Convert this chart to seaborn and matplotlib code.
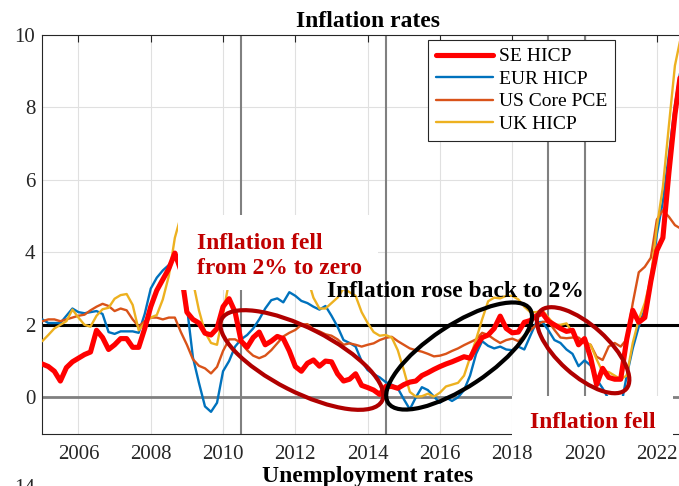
import numpy as np
import pandas as pd
import matplotlib
matplotlib.use("Agg")
import matplotlib.pyplot as plt
import seaborn as sns
from matplotlib.patches import Ellipse, Rectangle

# ---------------- data ----------------
years = 2005 + np.arange(107) / 6.0   # two-month time grid

se_hicp = [0.92, 0.85, 0.72, 0.45, 0.82, 0.98, 1.08, 1.18, 1.25, 1.85,
           1.65, 1.32, 1.45, 1.62, 1.62, 1.38, 1.38, 1.90, 2.50, 2.95,
           3.25, 3.55, 3.98, 3.50, 2.35, 2.15, 2.05, 1.77, 1.72, 1.90,
           2.50, 2.72, 2.35, 1.55, 1.38, 1.65, 1.80, 1.45, 1.55, 1.68,
           1.62, 1.28, 0.85, 0.72, 0.94, 1.03, 0.86, 1.00, 0.98, 0.65,
           0.45, 0.50, 0.65, 0.33, 0.27, 0.20, 0.08, 0.30, 0.30, 0.25,
           0.35, 0.42, 0.45, 0.60, 0.68, 0.77, 0.85, 0.92, 0.98, 1.05,
           1.12, 1.08, 1.40, 1.65, 1.72, 1.90, 2.24, 1.90, 1.78, 1.80,
           2.07, 2.12, 2.25, 2.32, 2.10, 2.00, 1.90, 1.82, 1.85, 1.45,
           1.62, 1.10, 0.35, 0.80, 0.55, 0.50, 0.50, 1.60, 2.40, 2.07,
           2.20, 3.20, 4.05, 4.40, 6.20, 7.80, 9.00]

eur_hicp = [2.15, 2.05, 2.05, 2.05, 2.25, 2.45, 2.35, 2.32, 2.35, 2.38,
            2.30, 1.80, 1.75, 1.82, 1.82, 1.82, 1.78, 2.30, 3.00, 3.30,
            3.50, 3.65, 3.88, 3.50, 2.50, 1.10, 0.40, -0.25, -0.40, -0.15,
            0.72, 1.00, 1.40, 1.60, 1.72, 1.90, 2.15, 2.45, 2.68, 2.73,
            2.62, 2.90, 2.80, 2.66, 2.60, 2.50, 2.42, 2.52, 2.25, 1.95,
            1.58, 1.50, 1.40, 1.00, 0.75, 0.64, 0.55, 0.42, 0.35, 0.25,
            -0.05, -0.33, 0.00, 0.28, 0.20, 0.02, -0.15, 0.00, -0.10, 0.00,
            0.20, 0.60, 1.20, 1.55, 1.42, 1.35, 1.40, 1.32, 1.30, 1.40,
            1.32, 1.70, 2.07, 2.08, 1.85, 1.58, 1.50, 1.32, 1.20, 0.86,
            1.02, 0.88, 0.50, 0.25, -0.05, -0.30, -0.30, 0.60, 1.35, 1.95,
            2.45, 3.14, 4.50, 5.40, 6.70, 8.05, 9.10]

us_core_pce = [2.10, 2.15, 2.15, 2.10, 2.15, 2.20, 2.25, 2.28, 2.40, 2.50,
               2.58, 2.52, 2.38, 2.45, 2.40, 2.15, 1.95, 2.10, 2.20, 2.20,
               2.15, 2.20, 2.20, 1.80, 1.45, 1.05, 0.87, 0.80, 0.66, 0.84,
               1.28, 1.60, 1.60, 1.50, 1.30, 1.15, 1.08, 1.15, 1.30, 1.49,
               1.68, 1.78, 1.86, 2.00, 2.02, 1.88, 1.82, 1.74, 1.70, 1.60,
               1.45, 1.49, 1.45, 1.40, 1.45, 1.49, 1.58, 1.64, 1.67, 1.55,
               1.45, 1.35, 1.30, 1.26, 1.20, 1.13, 1.15, 1.20, 1.28, 1.35,
               1.44, 1.52, 1.60, 1.78, 1.72, 1.60, 1.50, 1.58, 1.62, 1.55,
               1.70, 1.85, 2.00, 2.08, 2.10, 1.86, 1.65, 1.63, 1.65, 1.65,
               1.52, 1.45, 1.12, 1.03, 1.40, 1.50, 1.40, 1.60, 2.60, 3.45,
               3.60, 3.85, 4.90, 5.16, 4.98, 4.75, 4.65]

uk_hicp = [1.55, 1.72, 1.90, 2.00, 2.10, 2.42, 2.20, 2.00, 1.95, 2.25,
           2.43, 2.47, 2.72, 2.82, 2.85, 2.55, 1.85, 2.05, 2.20, 2.27,
           2.70, 3.35, 4.40, 5.00, 4.30, 3.20, 2.40, 1.80, 1.50, 1.45,
           2.30, 3.20, 3.30, 3.20, 3.15, 3.25, 3.55, 4.00, 4.40, 4.45,
           4.60, 4.80, 4.50, 3.70, 3.30, 2.75, 2.45, 2.45, 2.60, 2.75,
           3.00, 2.90, 2.80, 2.35, 2.05, 1.80, 1.70, 1.72, 1.65, 1.30,
           0.75, 0.15, 0.02, 0.03, 0.10, 0.02, 0.13, 0.30, 0.35, 0.40,
           0.60, 1.10, 1.60, 2.15, 2.65, 2.75, 2.73, 2.80, 2.80, 2.70,
           2.50, 2.35, 2.35, 2.40, 2.20, 2.00, 2.00, 2.04, 1.80, 1.52,
           1.52, 1.45, 1.05, 0.70, 0.70, 0.60, 0.50, 0.60, 1.50, 2.15,
           2.60, 3.30, 4.70, 5.80, 7.50, 9.15, 9.95]

series_names = ["SE HICP", "EUR HICP", "US Core PCE", "UK HICP"]
event_years = [2010.5, 2014.5, 2019.0, 2020.0]
x_ticks = [2006, 2008, 2010, 2012, 2014, 2016, 2018, 2020, 2022]
y_ticks = [0, 2, 4, 6, 8, 10]
target_level = 2

df = pd.DataFrame({"year": years, "SE HICP": se_hicp, "EUR HICP": eur_hicp,
                   "US Core PCE": us_core_pce, "UK HICP": uk_hicp})
long_df = df.melt(id_vars="year", var_name="series", value_name="rate")

# ---------------- styling ----------------
sns.set_theme(style="white")
plt.rcParams["font.family"] = ["Liberation Serif", "DejaVu Serif"]

W, H = 679, 486
fig = plt.figure(figsize=(W / 100, H / 100), dpi=100)

def px_rect(l, t, r, b):
    return [l / W, 1 - b / H, (r - l) / W, (b - t) / H]

ax = fig.add_axes(px_rect(42.3, 34.8, 693.0, 433.6))
ax.set_xlim(2005, 2023)
ax.set_ylim(-1, 10)

styles = {
    "SE HICP": dict(color="#FF0000", lw=3.7, zorder=3.5),
    "EUR HICP": dict(color="#0072BD", lw=1.7, zorder=3.0),
    "US Core PCE": dict(color="#D95319", lw=1.7, zorder=3.1),
    "UK HICP": dict(color="#EDB120", lw=1.7, zorder=3.2),
}
for name in series_names:
    sub = long_df[long_df["series"] == name]
    sns.lineplot(data=sub, x="year", y="rate", ax=ax, label=name,
                 estimator=None, sort=True, **styles[name])

ax.grid(True, color="#e0e0e0", lw=0.8, zorder=0)
ax.set_axisbelow(True)
for ev in event_years:
    ax.axvline(ev, color="#808080", lw=1.5, zorder=1.5)
ax.axhline(0, color="#808080", lw=2.0, zorder=1.6)
ax.axhline(target_level, color="black", lw=2.2, zorder=1.7)

ax.set_xticks(x_ticks)
ax.set_yticks(y_ticks)
ax.set_xlabel("")
ax.set_ylabel("")
for sp in ax.spines.values():
    sp.set_color("#262626")
    sp.set_linewidth(0.8)
ax.tick_params(axis="both", direction="in", length=5, width=0.8,
               colors="#262626", labelsize=15, top=True, right=True)
ax.tick_params(axis="x", pad=8)
ax.tick_params(axis="y", pad=5)

# white masking boxes (as in the reference)
ax.add_patch(Rectangle((2008.75, 2.96), 5.54, 2.07, facecolor="white",
                       edgecolor="none", zorder=5))
ax.add_patch(Rectangle((2018.0, -1.12), 4.46, 1.155, facecolor="white",
                       edgecolor="none", zorder=5, clip_on=False))

# annotation ellipses (center in data coords, size in pixels)
fig.canvas.draw()
def px_ellipse(cx, cy, a, b, ang, color):
    dx, dy = ax.transData.transform((cx, cy)) / fig.dpi
    e = Ellipse((dx, dy), 2 * a / 100, 2 * b / 100, angle=ang,
                transform=fig.dpi_scale_trans, fill=False,
                edgecolor=color, lw=3.0, zorder=4)
    fig.add_artist(e)

px_ellipse(2012.18, 1.03, 90, 32, -27, "#B00000")
px_ellipse(2016.53, 1.14, 85, 31, 33.5, "black")
px_ellipse(2019.96, 1.30, 58, 25, -42, "#B00000")

dark_red = "#C00000"
ax.text(2009.28, 3.90, "Inflation fell\nfrom 2% to zero", color=dark_red,
        fontsize=17, fontweight="bold", ha="left", va="center",
        linespacing=1.25, zorder=6)
ax.text(2012.88, 2.775, "Inflation rose back to 2%", color="black",
        fontsize=17, fontweight="bold", ha="left", va="baseline", zorder=6)
ax.text(2020.22, -0.855, "Inflation fell", color=dark_red, fontsize=17,
        fontweight="bold", ha="center", va="baseline", zorder=6,
        clip_on=False)

# legend
handles, labels = ax.get_legend_handles_labels()
leg = ax.legend(handles, labels, loc="upper left",
                bbox_to_anchor=(428.3 / W, 1 - 40 / H),
                bbox_transform=fig.transFigure, borderaxespad=0,
                frameon=True, fancybox=False, framealpha=1,
                edgecolor="#262626", fontsize=14, handlelength=2.94,
                handletextpad=0.31, borderpad=0.4, labelspacing=0.25)
leg.get_frame().set_linewidth(0.8)
leg.set_zorder(7)
for t in leg.get_texts():
    t.set_color("black")

# titles
fig.text(367.5 / W, 1 - 26.7 / H, "Inflation rates", fontsize=17,
         fontweight="bold", ha="center", va="baseline", color="black")
fig.text(367.5 / W, 1 - 481.7 / H, "Unemployment rates", fontsize=17,
         fontweight="bold", ha="center", va="baseline", color="black")
fig.text(35 / W, 1 - 479 / H, "14", fontsize=15, ha="right", va="top",
         color="#262626")

fig.savefig("out.png", dpi=100)
